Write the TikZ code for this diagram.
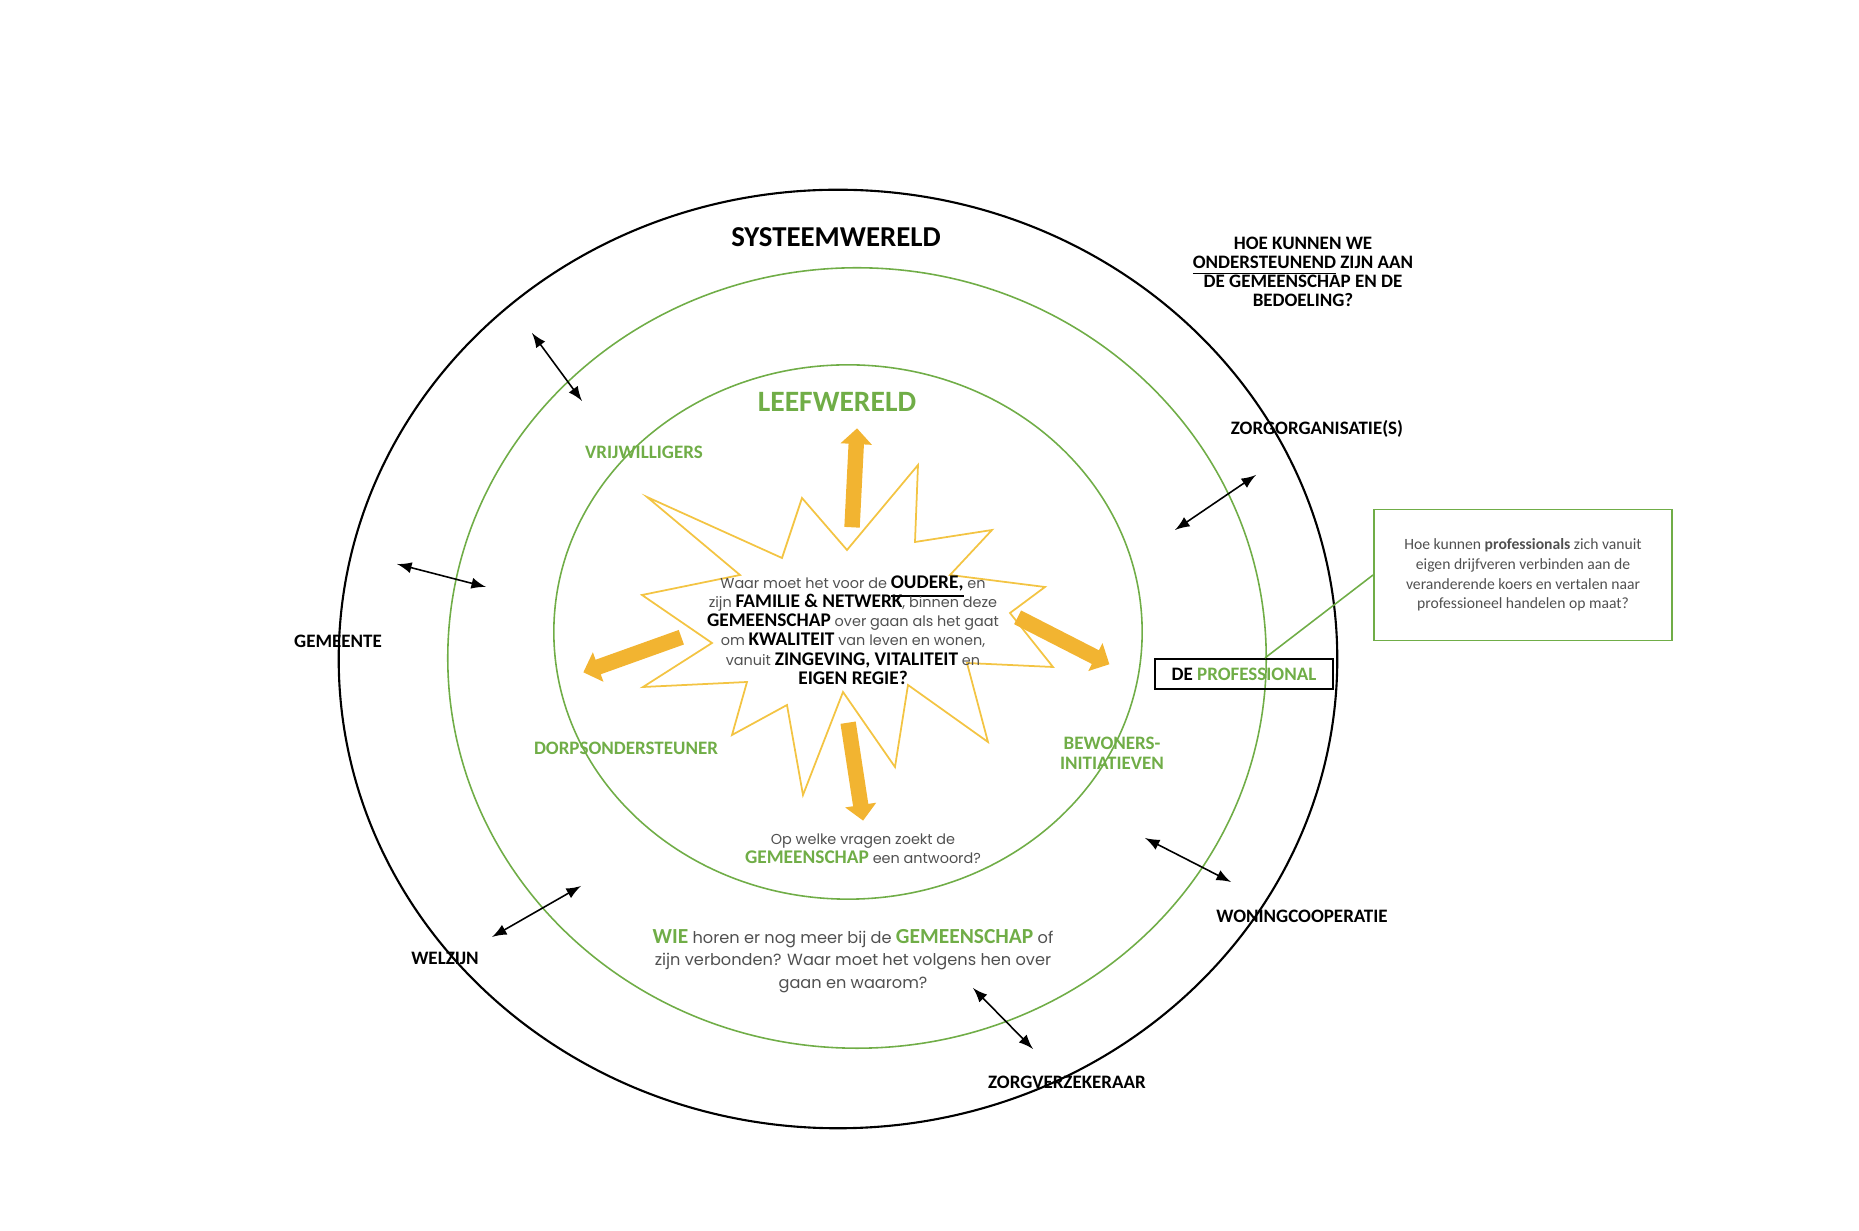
\documentclass[tikz,border=0pt]{standalone}
\usepackage{fontspec}
\setmainfont{Carlito}
\newfontfamily\geo{Poppins}
\usepackage{tikz}
\usetikzlibrary{shapes,arrows}
\usetikzlibrary{positioning}
\usepackage{xcolor}

\definecolor{groen}{HTML}{70AD47}
\definecolor{goud}{HTML}{F2B431}
\definecolor{stergeel}{HTML}{F3C443}
\definecolor{grijs}{HTML}{505050}

\newcommand{\vet}[1]{{\rmfamily\bfseries\color{black}\fontsize{5.5}{5}\selectfont #1}}
\newcommand{\gr}[2][5.5]{{\rmfamily\bfseries\color{groen}\fontsize{#1}{5}\selectfont #2}}
\setlength{\lineskiplimit}{-5pt}

\begin{document}
\begin{tikzpicture}[x=0.01cm, y=-0.01cm,
    actor/.style={font=\fontsize{5.4}{6.3}\selectfont\bfseries},
    deel/.style={font=\fontsize{5.4}{5.6}\selectfont\bfseries, text=groen, align=center},
    vraag/.style={font=\geo\fontsize{4.1}{5.45}\selectfont, text=grijs, align=center},
    pijl/.style={single arrow, fill=goud, inner xsep=0pt, inner ysep=0.07cm, minimum width=0pt,
      single arrow head extend=0.08cm, anchor=tail},
    relatie/.style={<->, >=latex, line width=0.45pt}]
    \useasboundingbox (0,0) rectangle (1859,1231);

    % systeemwereld and leefwereld
    \draw[line width=0.6pt] (838,659) ellipse [x radius=4.99cm, y radius=4.69cm];
    \draw[groen, line width=0.45pt] (857,658) ellipse [x radius=4.09cm, y radius=3.90cm];
    \draw[groen, line width=0.45pt] (848,632) ellipse [x radius=2.94cm, y radius=2.67cm];

    % star in the middle
    \draw[stergeel, line width=0.5pt] (647,497) -- (782,558) -- (802,498) -- (847,550)
      -- (918,465) -- (915,542) -- (992,530) -- (950,575) -- (1045,587) -- (1010,613)
      -- (1053,667) -- (967,663) -- (988,742) -- (908,685) -- (895,767) -- (843,692)
      -- (803,795) -- (787,705) -- (732,735) -- (747,682) -- (643,687) -- (712,643)
      -- (642,595) -- (740,575) -- cycle;
    \node[pijl, minimum height=0.99cm, rotate=87.1] (pijlop) at (852,528) {};
    \node[pijl, minimum height=0.99cm, rotate=-81.3] (pijlneer) at (848,722) {};
    \node[pijl, minimum height=1.04cm, rotate=199.7] (pijllinks) at (682,637) {};
    \node[pijl, minimum height=1.03cm, rotate=-27.1] (pijlrechts) at (1017,617) {};

    \node[font=\fontsize{8.2}{9}\selectfont\bfseries] (systeem) at (836,237) {SYSTEEMWERELD};
    \node[font=\fontsize{8.4}{9}\selectfont\bfseries, text=groen] (leef) at (837,402) {LEEFWERELD};
    \node[deel] (vrijw) at (644,452) {VRIJWILLIGERS};
    \node[deel] (dorp) at (626,748) {DORPSONDERSTEUNER};
    \node[deel] (bewoners) at (1112,753) {BEWONERS-\\INITIATIEVEN};

    \node[vraag] (kern) at (853,630) {Waar moet het voor de \vet{\underline{OUDERE,}} en\\
      zijn \vet{FAMILIE \& NETWERK}, binnen deze\\ \vet{GEMEENSCHAP} over gaan als het gaat\\
      om \vet{KWALITEIT} van leven en wonen,\\ vanuit \vet{ZINGEVING, VITALITEIT} en\\
      \vet{EIGEN REGIE?}};
    \node[vraag] (antwoord) at (863,849) {Op welke vragen zoekt de\\ \gr{GEMEENSCHAP} een antwoord?};
    \node[vraag, font=\geo\fontsize{4.6}{6.4}\selectfont] (wie) at (853,961)
      {\gr[6.1]{WIE} horen er nog meer bij de \gr[6.1]{GEMEENSCHAP} of\\
       zijn verbonden? Waar moet het volgens hen over\\ gaan en waarom?};

    % partners in the systeemwereld
    \node[actor] (gemeente) at (338,641) {GEMEENTE};
    \node[actor] (welzijn) at (445,958) {WELZIJN};
    \node[actor] (verzekeraar) at (1067,1082) {ZORGVERZEKERAAR};
    \node[actor] (woning) at (1302,916) {WONINGCOOPERATIE};
    \node[actor] (zorgorg) at (1317,429) {ZORGORGANISATIE(S)};
    \node[actor, font=\fontsize{5.4}{5.45}\selectfont\bfseries, align=center]
      (hoe) at (1303,272) {HOE KUNNEN WE\\
      \underline{ONDERSTEUNEND} ZIJN AAN\\ DE GEMEENSCHAP EN DE\\ BEDOELING?};

    \node[actor, draw, line width=0.6pt, minimum width=1.78cm, minimum height=0.30cm, inner sep=0pt]
      (prof) at (1244,674) {DE \textcolor{groen}{PROFESSIONAL}};
    \node[draw=groen, line width=0.5pt, minimum width=2.98cm, minimum height=1.31cm, align=center,
      font=\fontsize{4.45}{5.6}\selectfont, text=grijs] (profvraag) at (1523,575)
      {Hoe kunnen \textbf{professionals} zich vanuit\\ eigen drijfveren verbinden aan de\\
       veranderende koers en vertalen naar\\ professioneel handelen op maat?};
    \draw[groen, line width=0.45pt] ([xshift=0.21cm]prof.north) -- (profvraag.west);

    % relations between the worlds
    \coordinate (r1a) at (532,333);  \coordinate (r1b) at (582,401);
    \coordinate (r2a) at (397,564);  \coordinate (r2b) at (486,587);
    \coordinate (r3a) at (492,937);  \coordinate (r3b) at (581,886);
    \coordinate (r4a) at (973,988);  \coordinate (r4b) at (1033,1049);
    \coordinate (r5a) at (1145,838); \coordinate (r5b) at (1231,882);
    \coordinate (r6a) at (1175,530); \coordinate (r6b) at (1256,475);
    \path[relatie]
    (r1a) edge (r1b)
    (r2a) edge (r2b)
    (r3a) edge (r3b)
    (r4a) edge (r4b)
    (r5a) edge (r5b)
    (r6a) edge (r6b);
\end{tikzpicture}
\end{document}
